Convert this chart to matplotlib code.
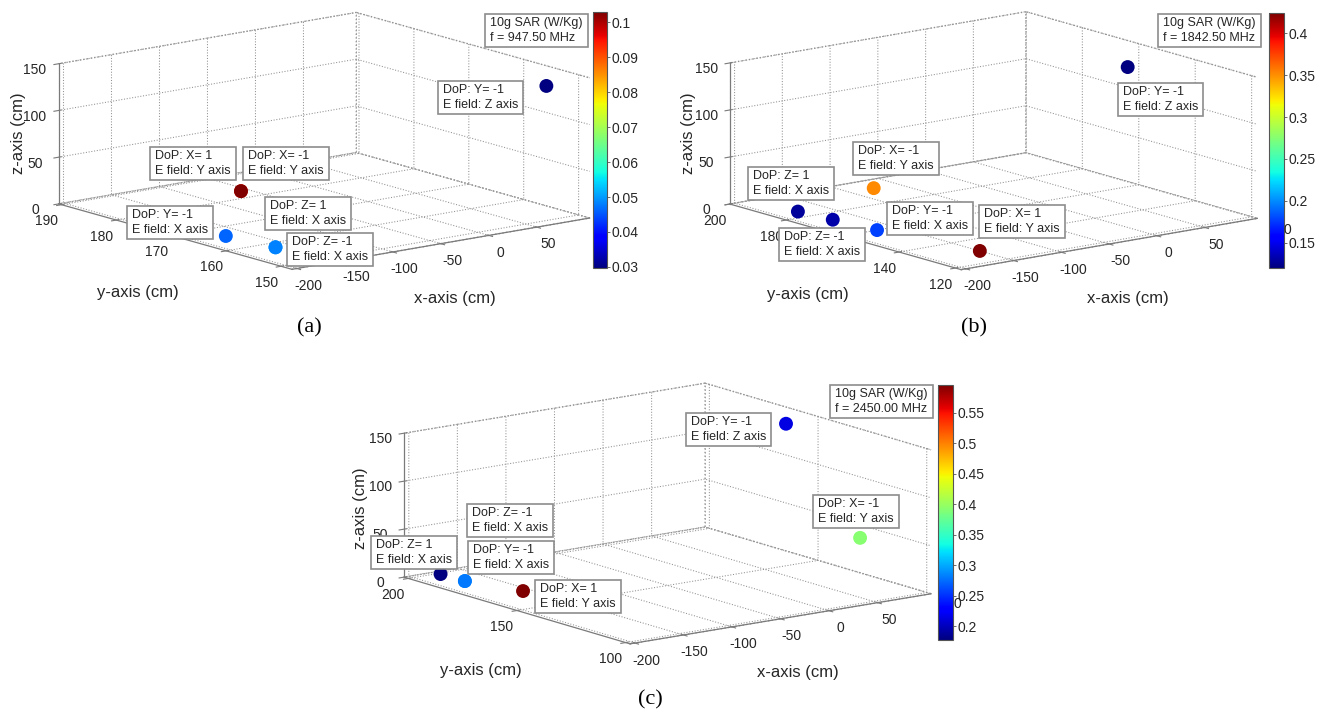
import numpy as np
import matplotlib
matplotlib.use("Agg")
import matplotlib.pyplot as plt
import matplotlib.transforms as mtransforms
from matplotlib.colors import Normalize
from matplotlib.cm import ScalarMappable
from matplotlib.patches import Rectangle
from mpl_toolkits.mplot3d import proj3d

plt.rcParams['font.family'] = ['Liberation Sans', 'DejaVu Sans']
plt.rcParams['axes.unicode_minus'] = False
plt.rcParams['grid.linestyle'] = ':'
plt.rcParams['grid.color'] = '#909090'
plt.rcParams['grid.linewidth'] = 0.75

W, H = 1317, 713

# ---------------- data ----------------
xticks = [-200, -150, -100, -50, 0, 50]
zticks = [0, 50, 100, 150]

# (a) 947.50 MHz  (points sharing a spot: the visible one comes first)
freq_a = "947.50"
dop_a = ["DoP: X= 1\nE field: Y axis", "DoP: X= -1\nE field: Y axis",
         "DoP: Y= -1\nE field: X axis", "DoP: Z= -1\nE field: X axis",
         "DoP: Z= 1\nE field: X axis", "DoP: Y= -1\nE field: Z axis"]
x_a = [-58, -58, -171, -165, -165, 80]
y_a = [183, 183, 166, 158, 158, 151.5]
z_a = [0, 0, 0, 0, 0, 140]
sar_a = [0.1029, 0.094, 0.0462, 0.048, 0.050, 0.0297]
yticks_a = [150, 160, 170, 180, 190]
cticks_a = [0.03, 0.04, 0.05, 0.06, 0.07, 0.08, 0.09, 0.1]

# (b) 1842.50 MHz
freq_b = "1842.50"
dop_b = ["DoP: Y= -1\nE field: Z axis", "DoP: Z= 1\nE field: X axis",
         "DoP: Z= -1\nE field: X axis", "DoP: X= -1\nE field: Y axis",
         "DoP: Y= -1\nE field: X axis", "DoP: X= 1\nE field: Y axis"]
x_b = [55, -178, -174, -75, -169, -150]
y_b = [147, 185, 174, 193, 160, 130]
z_b = [145, 0, 0, 0, 0, 0]
sar_b = [0.120, 0.128, 0.131, 0.352, 0.177, 0.424]
yticks_b = [120, 140, 160, 180, 200]
cticks_b = [0.15, 0.2, 0.25, 0.3, 0.35, 0.4]

# (c) 2450.00 MHz
freq_c = "2450.00"
dop_c = ["DoP: Y= -1\nE field: Z axis", "DoP: Z= 1\nE field: X axis",
         "DoP: Y= -1\nE field: X axis", "DoP: Z= -1\nE field: X axis",
         "DoP: X= 1\nE field: Y axis", "DoP: X= -1\nE field: Y axis"]
x_c = [72, -174, -173.6, -173.6, -157.6, 76]
y_c = [150, 199, 188, 188, 168.4, 117.7]
z_c = [148, 0, 0, 0, 0, 50]
sar_c = [0.214, 0.177, 0.287, 0.28, 0.596, 0.392]
yticks_c = [100, 150, 200]
cticks_c = [0.2, 0.25, 0.3, 0.35, 0.4, 0.45, 0.5, 0.55]

# ---------------- layout (pixels, y from top) ----------------
panels = [
    dict(tag="(a)", freq=freq_a, dop=dop_a, x=x_a, y=y_a, z=z_a, sar=sar_a,
         yticks=yticks_a, cticks=cticks_a,
         xlim=(-205, 105), ylim=(148, 190.5), zlim=(0, 150),
         view=(12.7, -128.1), aspect=0.38,
         corners=[(292, 270), (589, 220), (59, 203), (59, 62)],
         cbar=(593, 12, 14, 256), sarbox=(485, 14),
         tips=[(150, 147), (243, 147), (127, 206), (287, 233), (265, 197), (438, 81)],
         zlab=(19, 133), ylab=(138, 293), xlab=(455, 298), tagpos=(309, 328),
         ghost=None),
    dict(tag="(b)", freq=freq_b, dop=dop_b, x=x_b, y=y_b, z=z_b, sar=sar_b,
         yticks=yticks_b, cticks=cticks_b,
         xlim=(-205, 105), ylim=(118, 200), zlim=(0, 150),
         view=(12.8, -128.0), aspect=0.385,
         corners=[(961, 270), (1257, 220), (730, 203), (730, 62)],
         cbar=(1269, 13, 15, 255), sarbox=(1158, 14),
         tips=[(1118, 83), (748, 167), (779, 228), (853, 142), (887, 202), (979, 205)],
         zlab=(688, 133), ylab=(808, 295), xlab=(1128, 298), tagpos=(974, 328),
         ghost=(0.165,)),
    dict(tag="(c)", freq=freq_c, dop=dop_c, x=x_c, y=y_c, z=z_c, sar=sar_c,
         yticks=yticks_c, cticks=cticks_c,
         xlim=(-205, 105), ylim=(98, 202), zlim=(0, 150),
         view=(12.8, -126.9), aspect=0.392,
         corners=[(630, 644), (931, 594), (404, 577), (404, 433)],
         cbar=(938, 385, 15, 255), sarbox=(830, 385),
         tips=[(686, 413), (371, 536), (468, 541), (467, 504), (535, 580), (813, 495)],
         zlab=(360, 508), ylab=(481, 670), xlab=(798, 673), tagpos=(650, 700),
         ghost=(0.236,)),
]

TXT = '#262626'
EDGE = '#8c8c8c'

fig = plt.figure(figsize=(W / 100, H / 100), dpi=100)
ident = mtransforms.IdentityTransform()


def boxed_text(px, py, s, size=9):
    t = fig.text((px + 5) / W, 1 - (py + 3) / H, s, ha='left', va='top',
                 fontsize=size, color=TXT, linespacing=1.3, zorder=6)
    return t


def fit_axes(ax, p):
    (x0, x1), (y0, y1), (z0, z1) = p['xlim'], p['ylim'], p['zlim']
    pts3 = [(x0, y0, z0), (x1, y0, z0), (x0, y1, z0), (x0, y1, z1)]
    tgt = np.array([(tx, H - ty) for tx, ty in p['corners']], float)
    for _ in range(2):
        fig.canvas.draw()
        pos = ax.get_position()
        S0 = pos.width * W
        c0 = np.array([(pos.x0 + pos.width / 2) * W, (pos.y0 + pos.height / 2) * H])
        M = ax.get_proj()
        us = []
        for q in pts3:
            px, py, _ = proj3d.proj_transform(q[0], q[1], q[2], M)
            d = ax.transData.transform((px, py))
            us.append((d - c0) / S0)
        us = np.array(us)
        A = np.zeros((8, 3))
        b = np.zeros(8)
        for i in range(4):
            A[2 * i] = [1, 0, us[i, 0]]
            b[2 * i] = tgt[i, 0]
            A[2 * i + 1] = [0, 1, us[i, 1]]
            b[2 * i + 1] = tgt[i, 1]
        cx, cy, S = np.linalg.lstsq(A, b, rcond=None)[0]
        ax.set_position([(cx - S / 2) / W, (cy - S / 2) / H, S / W, S / H])


for p in panels:
    ax = fig.add_axes([0.1, 0.1, 400 / W, 400 / H], projection='3d', proj_type='ortho')
    ax.set_facecolor((1, 1, 1, 0))
    ax.set_xlim(*p['xlim'])
    ax.set_ylim(*p['ylim'])
    ax.set_zlim(*p['zlim'])
    ax.view_init(elev=p['view'][0], azim=p['view'][1])
    ax.set_box_aspect((1, 1, p['aspect']))
    ax.set_xticks(xticks)
    ax.set_yticks(p['yticks'])
    ax.set_zticks(zticks)
    for axis in (ax.xaxis, ax.yaxis, ax.zaxis):
        axis.set_pane_color((1, 1, 1, 1))
        axis.pane.set_edgecolor('#999999')
        axis.pane.set_linestyle(':')
        axis.line.set_color('#7a7a7a')
        axis.line.set_linewidth(0.9)
    ax.tick_params(axis='both', labelsize=10, labelcolor=TXT, colors='#7a7a7a', pad=2)
    ax.tick_params(axis='z', labelsize=10, labelcolor=TXT, colors='#7a7a7a', pad=1)

    norm = Normalize(min(p['sar']), max(p['sar']))
    ax.scatter(p['x'], p['y'], p['z'], c=p['sar'], cmap='jet', norm=norm,
               s=100, depthshade=False, edgecolors='none')

    fit_axes(ax, p)

    # colorbar
    cx, cy, cw, ch = p['cbar']
    cax = fig.add_axes([cx / W, 1 - (cy + ch) / H, cw / W, ch / H])
    cb = fig.colorbar(ScalarMappable(norm=norm, cmap='jet'), cax=cax, ticks=p['cticks'])
    cb.ax.set_yticklabels([('%g' % v) for v in p['cticks']])
    cb.ax.tick_params(labelsize=10, labelcolor=TXT, length=2, width=0.6,
                      color='#555555', pad=1)
    cb.outline.set_edgecolor('#555555')
    cb.outline.set_linewidth(0.8)
    if p['ghost']:
        cb.ax.text(1.0, p['ghost'][0], "0", transform=cb.ax.get_yaxis_transform(),
                   fontsize=10, color=TXT, ha='left', va='center')

    # axis labels
    fig.text(p['zlab'][0] / W, 1 - p['zlab'][1] / H, "z-axis (cm)", rotation=90,
             ha='center', va='center', fontsize=12, color=TXT)
    fig.text(p['ylab'][0] / W, 1 - p['ylab'][1] / H, "y-axis (cm)",
             ha='center', va='center', fontsize=12, color=TXT)
    fig.text(p['xlab'][0] / W, 1 - p['xlab'][1] / H, "x-axis (cm)",
             ha='center', va='center', fontsize=12, color=TXT)
    fig.text(p['tagpos'][0] / W, 1 - p['tagpos'][1] / H, p['tag'],
             ha='center', va='center', fontsize=16, color='black',
             family=['Liberation Serif', 'DejaVu Serif'])

    # data tips and SAR legend box
    p['texts'] = [boxed_text(tx, ty, s) for (tx, ty), s in zip(p['tips'], p['dop'])]
    p['texts'].append(boxed_text(p['sarbox'][0], p['sarbox'][1],
                                 "10g SAR (W/Kg)\nf = %s MHz" % p['freq']))

fig.canvas.draw()
r = fig.canvas.get_renderer()
for p in panels:
    for t in p['texts']:
        bb = t.get_window_extent(r)
        fig.add_artist(Rectangle((bb.x0 - 5, bb.y0 - 3), bb.width + 10, bb.height + 6,
                                 transform=ident, facecolor='white', edgecolor=EDGE,
                                 linewidth=1.2, zorder=5))

fig.savefig("out.png", dpi=100)
